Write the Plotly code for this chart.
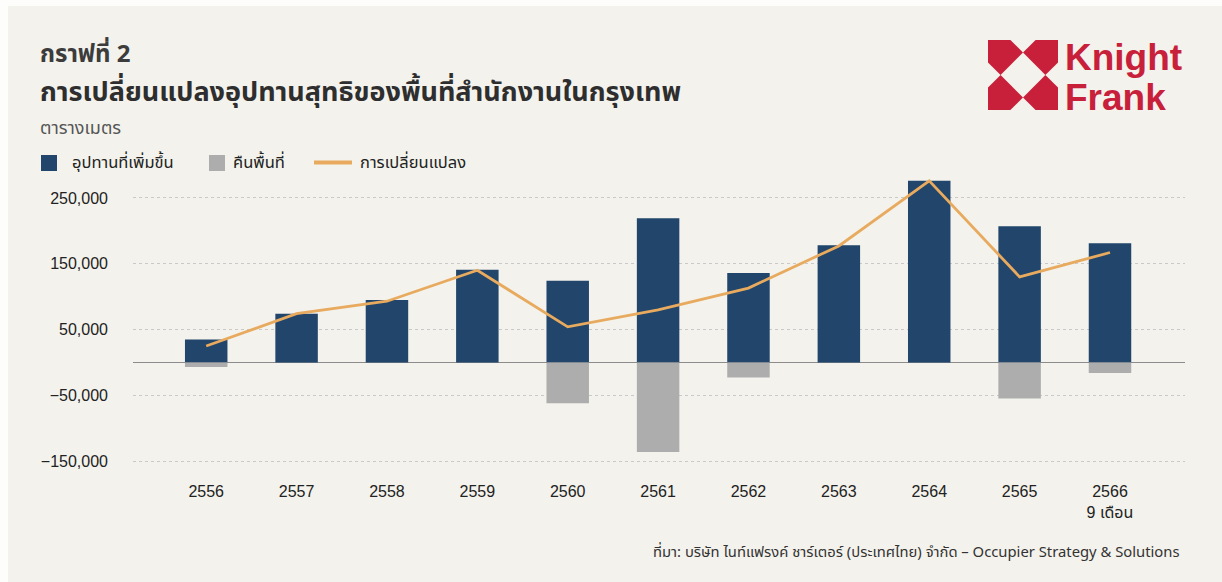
import plotly.graph_objects as go

# ---- data ----
years = ['2556', '2557', '2558', '2559', '2560', '2561', '2562', '2563', '2564', '2565', '2566']
tick_text = ['2556', '2557', '2558', '2559', '2560', '2561', '2562', '2563', '2564', '2565', '2566<br>9 เดือน']
new_supply = [35000, 74000, 95000, 141000, 124000, 219000, 136000, 178000, 276000, 207000, 181000]
withdrawn = [-7000, 0, 0, 0, -62000, -136000, -23000, 0, 0, -55000, -16000]
net_change = [25000, 74000, 93000, 140000, 54000, 80000, 113000, 177000, 276000, 130000, 167000]
y_ticks = [-150000, -50000, 50000, 150000, 250000]

series_names = ['อุปทานที่เพิ่มขึ้น', 'คืนพื้นที่', 'การเปลี่ยนแปลง']
title_small = 'กราฟที่ 2'
title_main = 'การเปลี่ยนแปลงอุปทานสุทธิของพื้นที่สำนักงานในกรุงเทพ'
unit_text = 'ตารางเมตร'
source_text = 'ที่มา: บริษัท ไนท์แฟรงค์ ชาร์เตอร์ (ประเทศไทย) จำกัด – Occupier Strategy & Solutions'

# ---- style ----
W, H = 1222, 582
L, R, T, B = 133, 1185, 165, 471
NAVY = '#21456b'
GREY = '#adadad'
ORANGE = '#e8aa5e'
RED = '#c8203a'
PANEL = '#f3f2ec'
THAI = "'Noto Sans Thai', 'Noto Sans Thai UI', 'Noto Sans', sans-serif"
LAT = "'Liberation Sans', Arial, 'Noto Sans Thai', sans-serif"


def px(x):
    return (x - L) / (R - L)


def py(y):
    return (B - y) / (B - T)


fig = go.Figure()
fig.add_bar(x=years, y=new_supply, name=series_names[0], marker=dict(color=NAVY, line=dict(width=0)),
            width=0.47, showlegend=False)
fig.add_bar(x=years, y=withdrawn, name=series_names[1], marker=dict(color=GREY, line=dict(width=0)),
            width=0.47, showlegend=False)
fig.add_scatter(x=years, y=net_change, name=series_names[2], mode='lines',
                line=dict(color=ORANGE, width=2.8), showlegend=False)

shapes = []
# panel background
shapes.append(dict(type='rect', xref='paper', yref='paper', x0=px(8), x1=px(W + 5), y0=py(H + 5), y1=py(6),
                   fillcolor=PANEL, line=dict(width=0), layer='below'))

# Knight Frank mark (square 70px with corner pieces)
mx, my, ms = 988, 40, 70
a, b = 0.32, 0.18
base_piece = [(0, 0), (a, 0), (0.5, b), (b, 0.5), (0, a)]


def mirror(poly, fx, fy):
    return [((1 - u) if fx else u, (1 - v) if fy else v) for u, v in poly]


allp = [base_piece, mirror(base_piece, True, False), mirror(base_piece, False, True), mirror(base_piece, True, True)]
for poly in allp:
    path = ''
    for i, (u, v) in enumerate(poly):
        path += ('M' if i == 0 else 'L') + f'{px(mx + u * ms):.5f},{py(my + v * ms):.5f}'
    path += 'Z'
    shapes.append(dict(type='path', xref='paper', yref='paper', path=path, fillcolor=RED, line=dict(width=0)))

# legend markers
shapes.append(dict(type='rect', xref='paper', yref='paper', x0=px(41), x1=px(57), y0=py(171), y1=py(155),
                   fillcolor=NAVY, line=dict(width=0)))
shapes.append(dict(type='rect', xref='paper', yref='paper', x0=px(209), x1=px(225), y0=py(171), y1=py(155),
                   fillcolor=GREY, line=dict(width=0)))
shapes.append(dict(type='line', xref='paper', yref='paper', x0=px(314), x1=px(352), y0=py(162.5), y1=py(162.5),
                   line=dict(color=ORANGE, width=4)))

ann = []


def text(x, y, s, size, color, family=THAI, anchor='left', bold=False):
    ann.append(dict(xref='paper', yref='paper', x=px(x), y=py(y), xanchor=anchor, yanchor='middle',
                    text=f'<b>{s}</b>' if bold else s, showarrow=False,
                    font=dict(size=size, color=color, family=family)))


text(38, 55, title_small, 24, '#3c3c3c', bold=True)
text(38, 93, title_main, 27, '#2e2e2e', bold=True)
text(38, 128, unit_text, 18, '#555555')
text(70, 162, series_names[0], 16.5, '#222222')
text(231, 162, series_names[1], 16.5, '#222222')
text(358, 162, series_names[2], 16.5, '#222222')
text(1182, 552, source_text, 14.8, '#333333', anchor='right')
text(1063, 58, 'Knight', 37, RED, family=LAT, bold=True)
text(1063, 98, 'Frank', 37, RED, family=LAT, bold=True)

fig.update_layout(
    width=W, height=H,
    margin=dict(l=L, r=W - R, t=T, b=H - B, pad=0),
    paper_bgcolor='#fdfdfb', plot_bgcolor='rgba(0,0,0,0)',
    barmode='relative',
    shapes=shapes, annotations=ann,
    xaxis=dict(type='category', range=[-0.81, 10.83], tickvals=years, ticktext=tick_text,
               showgrid=False, showline=False, zeroline=False, ticks='',
               tickfont=dict(family=LAT, size=16, color='#222222'), ticklabelstandoff=9),
    yaxis=dict(range=[-165000, 300000], tickvals=y_ticks, tickformat=',', showgrid=True,
               gridcolor='#c9c9c9', griddash='dot', gridwidth=1,
               zeroline=True, zerolinecolor='#8c8c8c', zerolinewidth=1, showline=False, ticks='',
               tickfont=dict(family=LAT, size=16, color='#222222'), ticklabelstandoff=24),
)

fig.write_html('out.html')
